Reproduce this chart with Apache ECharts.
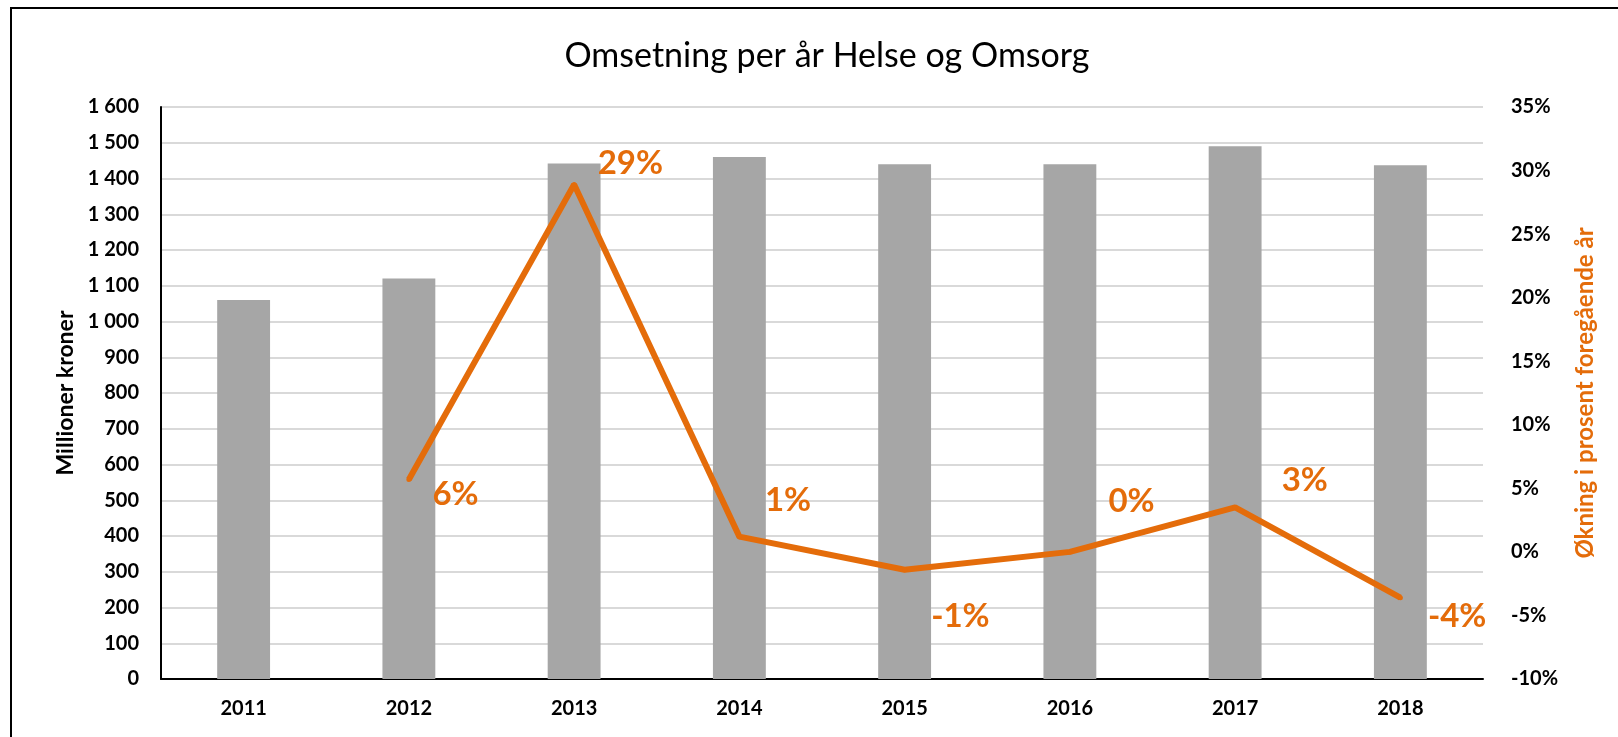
<!DOCTYPE html>
<html>
<head>
<meta charset="utf-8">
<script src="https://cdn.jsdelivr.net/npm/echarts@6/dist/echarts.min.js"></script>
<style>
  html, body { margin: 0; padding: 0; background: #fff; }
  #chart { width: 1618px; height: 737px; }
</style>
</head>
<body>
<div id="chart"></div>
<script>
// Data
var years = ['2011', '2012', '2013', '2014', '2015', '2016', '2017', '2018'];
var turnover = [1060, 1120, 1442, 1460, 1440, 1440, 1490, 1437];   // millioner kroner
var growth = [null, 5.7, 28.9, 1.2, -1.4, 0.0, 3.5, -3.6];          // prosent
var growthLabels = ['', '6%', '29%', '1%', '-1%', '0%', '3%', '-4%'];

// label offsets for the percent labels (dx, dy), relative to position 'right'
var labelShift = [[0, 0], [16, 15], [16, -21], [18, -36], [19, 47], [31, -51], [39, -27], [20, 19]];

const orange = '#E46C0A';
const fontFam = 'Lato, "Open Sans", sans-serif';

var chart = echarts.init(document.getElementById('chart'));

function fmtThousands(v) {
  return String(v).replace(/\B(?=(\d{3})+(?!\d))/g, ' ');
}

var lineData = growth.map(function (v, i) {
  return {
    value: v,
    label: { formatter: growthLabels[i] }
  };
});

var option = {
  animation: false,
  backgroundColor: '#fff',
  title: {
    text: 'Omsetning per år Helse og Omsorg',
    left: 822,
    textAlign: 'center',
    top: 34,
    textStyle: { fontFamily: fontFam, fontSize: 34, fontWeight: 'normal', color: '#000' }
  },
  graphic: [
    {
      type: 'rect',
      shape: { x: 11, y: 8, width: 1700, height: 800 },
      style: { fill: null, stroke: '#000', lineWidth: 2 },
      silent: true
    }
  ],
  grid: { left: 161, right: 135, top: 107, bottom: 58 },
  xAxis: {
    type: 'category',
    data: years,
    axisLine: { lineStyle: { color: '#000', width: 2 } },
    axisTick: { show: false },
    axisLabel: { fontFamily: fontFam, fontSize: 20, fontWeight: 'bold', color: '#000', margin: 20 }
  },
  yAxis: [
    {
      type: 'value',
      min: 0, max: 1600, interval: 100,
      name: 'Millioner kroner',
      nameLocation: 'middle',
      nameGap: 83,
      nameTextStyle: { fontFamily: fontFam, fontSize: 23, fontWeight: 'bold', color: '#000' },
      axisLine: { show: true, lineStyle: { color: '#000', width: 2 } },
      axisTick: { show: false },
      axisLabel: { formatter: fmtThousands, fontFamily: fontFam, fontSize: 20, fontWeight: 'bold', color: '#000', margin: 22 },
      splitLine: { lineStyle: { color: '#d9d9d9', width: 2 } }
    },
    {
      type: 'value',
      min: -10, max: 35, interval: 5,
      name: 'Økning i prosent foregående år',
      nameLocation: 'middle',
      nameGap: 90,
      nameRotate: 90,
      nameTextStyle: { fontFamily: fontFam, fontSize: 24, fontWeight: 'bold', color: orange },
      axisLine: { show: false },
      axisTick: { show: false },
      axisLabel: { formatter: '{value}%', fontFamily: fontFam, fontSize: 20, fontWeight: 'bold', color: '#000', margin: 28 },
      splitLine: { show: false }
    }
  ],
  series: [
    {
      name: 'Omsetning',
      type: 'bar',
      data: turnover,
      barWidth: '32%',
      itemStyle: { color: '#A6A6A6' },
      z: 1
    },
    {
      name: 'Økning',
      type: 'line',
      yAxisIndex: 1,
      data: lineData,
      symbol: 'circle',
      symbolSize: 5,
      showSymbol: true,
      itemStyle: { color: orange },
      lineStyle: { color: orange, width: 6 },
      label: {
        show: true,
        position: 'right',
        fontFamily: fontFam,
        fontSize: 33,
        fontWeight: 'bold',
        color: orange
      },
      labelLayout: function (p) {
        var s = labelShift[p.dataIndex] || [0, 0];
        return { dx: s[0], dy: s[1] };
      },
      z: 3
    }
  ]
};

chart.setOption(option);
</script>
</body>
</html>
